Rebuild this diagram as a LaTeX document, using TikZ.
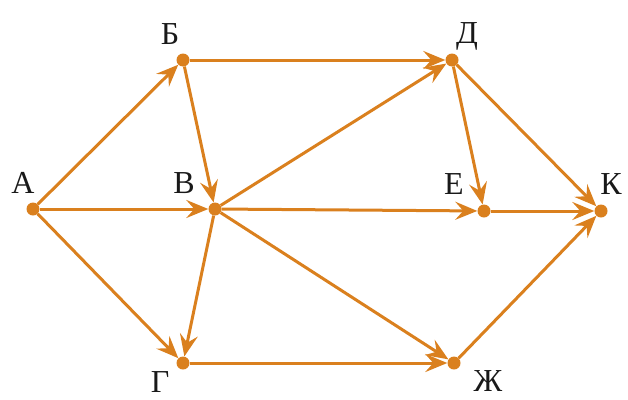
\documentclass[tikz,border=0pt]{standalone}
\usepackage{fontspec}
\setmainfont{Liberation Serif}
\usetikzlibrary{arrows.meta}
\definecolor{edgeor}{RGB}{218,128,30}
\begin{document}
\begin{tikzpicture}[x=1pt,y=-1pt,
  vtx/.style={circle,fill=edgeor,inner sep=0pt,minimum size=13pt},
  lbl/.style={font=\fontsize{32}{32}\selectfont,inner sep=0pt,text=black!90},
  edge/.style={draw=edgeor,line width=3pt,-{Stealth[length=22pt,width=18pt,inset=8pt]}}]
\useasboundingbox (0,0) rectangle (628,399);
\node[vtx] (A) at (33,209) {};
\node[vtx] (B1) at (183,60) {};
\node[vtx] (V) at (215,209) {};
\node[vtx] (G) at (183,363) {};
\node[vtx] (D) at (452,60) {};
\node[vtx] (E) at (484,211) {};
\node[vtx] (K) at (601,211) {};
\node[vtx] (Zh) at (454,363) {};
\node[lbl] (lA) at (23,183) {А};
\node[lbl] (lB) at (170,34) {Б};
\node[lbl] (lV) at (184,183) {В};
\node[lbl] (lG) at (160,382) {Г};
\node[lbl] (lD) at (467,36) {Д};
\node[lbl] (lE) at (454,184) {Е};
\node[lbl] (lK) at (611,184) {К};
\node[lbl] (lZh) at (488,381) {Ж};
\draw[edge] (A) -- (B1);
\draw[edge] (A) -- (V);
\draw[edge] (A) -- (G);
\draw[edge] (B1) -- (D);
\draw[edge] (B1) -- (V);
\draw[edge] (V) -- (D);
\draw[edge] (V) -- (E);
\draw[edge] (V) -- (Zh);
\draw[edge] (V) -- (G);
\draw[edge] (D) -- (E);
\draw[edge] (D) -- (K);
\draw[edge] (E) -- (K);
\draw[edge] (G) -- (Zh);
\draw[edge] (Zh) -- (K);
\end{tikzpicture}
\end{document}
